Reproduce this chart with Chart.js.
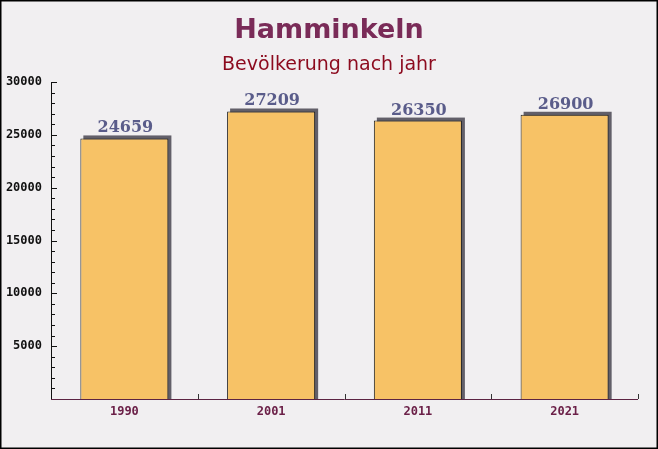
<!DOCTYPE html>
<html lang="de">
<head>
<meta charset="UTF-8">
<title>Hamminkeln</title>
<script src="https://cdn.jsdelivr.net/npm/chart.js"></script>
<style>
    html, body { margin: 0; padding: 0; background: #f1eff1; }
    #wrap { width: 658px; height: 449px; }
</style>
</head>
<body>
<div id="wrap"><canvas id="popChart" width="658" height="449"></canvas></div>
<script>
// data
var years = ['1990', '2001', '2011', '2021'];
var population = [24659, 27209, 26350, 26900];
var yTickValues = [5000, 10000, 15000, 20000, 25000, 30000];

var titleText = 'Hamminkeln';
var subtitleText = 'Bevölkerung nach jahr';

// draws background, titles, axes, bar shadows and value labels
var decoPlugin = {
    id: 'deco',
    beforeDraw: function (chart) {
        var ctx = chart.ctx;
        ctx.save();
        ctx.fillStyle = '#f1eff1';
        ctx.fillRect(0, 0, chart.width, chart.height);

        ctx.textAlign = 'center';
        ctx.textBaseline = 'alphabetic';
        ctx.fillStyle = '#7a2b58';
        ctx.font = 'bold 27px "DejaVu Sans"';
        ctx.fillText(titleText, 329, 38);
        ctx.fillStyle = '#8c0a1e';
        ctx.font = '19px "DejaVu Sans"';
        ctx.fillText(subtitleText, 329, 70);
        ctx.restore();
    },
    beforeDatasetsDraw: function (chart) {
        var ctx = chart.ctx;
        var meta = chart.getDatasetMeta(0);
        ctx.save();
        ctx.fillStyle = '#625f69';
        meta.data.forEach(function (bar) {
            var left = bar.x - bar.width / 2;
            var h = bar.base - bar.y;
            ctx.fillRect(left + 3, bar.y - 3, bar.width, h + 3);
        });
        ctx.restore();
    },
    afterDatasetsDraw: function (chart) {
        var ctx = chart.ctx;
        var area = chart.chartArea;
        var yScale = chart.scales.y;
        var xScale = chart.scales.x;
        var meta = chart.getDatasetMeta(0);
        ctx.save();

        // value labels
        ctx.fillStyle = '#5a5c8a';
        ctx.font = 'bold 16px "DejaVu Serif"';
        ctx.textAlign = 'center';
        ctx.textBaseline = 'alphabetic';
        meta.data.forEach(function (bar, i) {
            ctx.fillText(String(population[i]), bar.x + 1, bar.y - 6);
        });

        // y axis
        ctx.strokeStyle = '#111';
        ctx.lineWidth = 1;
        ctx.beginPath();
        ctx.moveTo(area.left + 0.5, area.top);
        ctx.lineTo(area.left + 0.5, area.bottom);
        ctx.stroke();
        for (var v = 1000; v <= 30000; v += 1000) {
            var py = Math.round(yScale.getPixelForValue(v)) + 0.5;
            var len = (v % 5000 === 0) ? 6 : 4;
            ctx.beginPath();
            ctx.moveTo(area.left, py);
            ctx.lineTo(area.left + len, py);
            ctx.stroke();
        }
        ctx.fillStyle = '#111';
        ctx.font = 'bold 12px "DejaVu Sans Mono"';
        ctx.textAlign = 'right';
        ctx.textBaseline = 'middle';
        yTickValues.forEach(function (t) {
            ctx.fillText(String(t), area.left - 9, yScale.getPixelForValue(t));
        });

        // x axis
        ctx.strokeStyle = '#5c2342';
        ctx.beginPath();
        ctx.moveTo(area.left, area.bottom + 0.5);
        ctx.lineTo(area.right, area.bottom + 0.5);
        ctx.stroke();
        ctx.strokeStyle = '#333';
        for (var i = 1; i <= years.length; i++) {
            var bx;
            if (i === years.length) {
                bx = area.right;
            } else {
                bx = Math.round((xScale.getPixelForValue(i - 1) + xScale.getPixelForValue(i)) / 2);
            }
            bx += 0.5;
            ctx.beginPath();
            ctx.moveTo(bx, area.bottom);
            ctx.lineTo(bx, area.bottom - 5);
            ctx.stroke();
        }
        ctx.fillStyle = '#6b2048';
        ctx.font = 'bold 12px "DejaVu Sans Mono"';
        ctx.textAlign = 'center';
        ctx.textBaseline = 'middle';
        years.forEach(function (y, i) {
            ctx.fillText(y, xScale.getPixelForValue(i), area.bottom + 13);
        });

        // frame
        ctx.strokeStyle = '#000';
        ctx.lineWidth = 3;
        ctx.strokeRect(0, 0, chart.width, chart.height);
        ctx.restore();
    }
};

var ctxPop = document.getElementById('popChart').getContext('2d');
var popChart = new Chart(ctxPop, {
    type: 'bar',
    data: {
        labels: years,
        datasets: [{
            data: population,
            backgroundColor: '#f7c266',
            borderColor: '#1e1e1e',
            borderWidth: { left: 1, top: 1, right: 1, bottom: 0 },
            borderSkipped: false,
            categoryPercentage: 0.6,
            barPercentage: 1.0
        }]
    },
    options: {
        responsive: false,
        animation: false,
        layout: { padding: { left: 51, right: 20, top: 82, bottom: 50 } },
        plugins: {
            legend: { display: false },
            tooltip: { enabled: false }
        },
        scales: {
            x: { display: false, offset: true },
            y: { display: false, min: 0, max: 30000 }
        }
    },
    plugins: [decoPlugin]
});
</script>
</body>
</html>
